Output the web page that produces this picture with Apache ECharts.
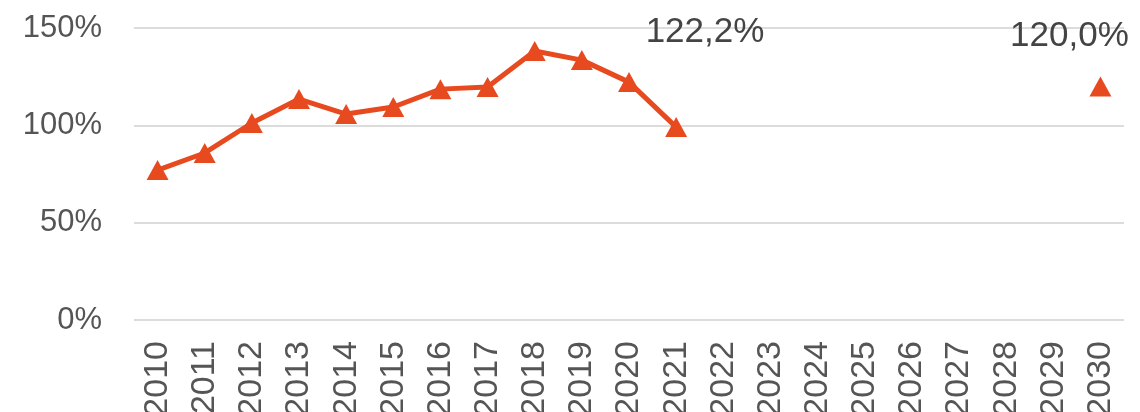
<!DOCTYPE html>
<html>
<head>
<meta charset="utf-8">
<script src="https://cdn.jsdelivr.net/npm/echarts@6/dist/echarts.min.js"></script>
<style>
  html, body { margin: 0; padding: 0; background: #fff; }
  #chart { width: 1140px; height: 412px; }
</style>
</head>
<body>
<div id="chart"></div>
<script>
// 年份
const years = ["2010", "2011", "2012", "2013", "2014", "2015", "2016", "2017", "2018", "2019", "2020",
  "2021", "2022", "2023", "2024", "2025", "2026", "2027", "2028", "2029", "2030"];
// 实际值 (%)
const actual = [77.0, 85.8, 101.2, 113.5, 105.8, 109.4, 118.6, 119.7, 138.2, 133.5, 122.2, 99.1,
  null, null, null, null, null, null, null, null, null];
// 目标值 (%)
const target = [null, null, null, null, null, null, null, null, null, null, null, null,
  null, null, null, null, null, null, null, null, 120.0];
const yTicks = [0, 50, 100, 150];

const red = "#e84a20";
const font = "Liberation Sans, Arial, sans-serif";
const fmt = (v) => v.toFixed(1).replace(".", ",") + "%";

const myChart = echarts.init(document.getElementById("chart"));

let option = {
  animation: false,
  grid: {
    left: 134,
    right: 16,
    top: 28,
    bottom: 92,
    outerBoundsMode: "none",
  },
  xAxis: {
    type: "category",
    data: years,
    boundaryGap: true,
    axisLine: { show: false },
    axisTick: { show: false },
    axisLabel: {
      rotate: 90,
      interval: 0,
      margin: 21,
      fontFamily: font,
      fontSize: 34,
      color: "#555",
    },
  },
  yAxis: {
    type: "value",
    min: yTicks[0],
    max: yTicks[yTicks.length - 1],
    interval: 50,
    axisLine: { show: false },
    axisTick: { show: false },
    splitLine: { lineStyle: { color: "#dcdcdc", width: 2 } },
    axisLabel: {
      margin: 32,
      fontFamily: font,
      fontSize: 31,
      color: "#555",
      formatter: (v) => v + "%",
    },
  },
  series: [
    {
      name: "实际",
      type: "line",
      symbol: "triangle",
      symbolSize: [22, 20],
      lineStyle: { color: red, width: 5 },
      itemStyle: { color: red },
      data: actual.map((v, i) =>
        i === 10
          ? {
              value: v,
              label: {
                show: true,
                position: "top",
                offset: [76, -17],
                formatter: (p) => fmt(p.value),
                fontFamily: font,
                fontSize: 35,
                color: "#444",
              },
            }
          : v
      ),
    },
    {
      name: "目标",
      type: "line",
      symbol: "triangle",
      symbolSize: [22, 20],
      lineStyle: { width: 0 },
      itemStyle: { color: red },
      label: {
        show: true,
        position: "top",
        offset: [-31, -18],
        formatter: (p) => fmt(p.value),
        fontFamily: font,
        fontSize: 35,
        color: "#444",
      },
      data: target,
    },
  ],
};
myChart.setOption(option);
</script>
</body>
</html>
